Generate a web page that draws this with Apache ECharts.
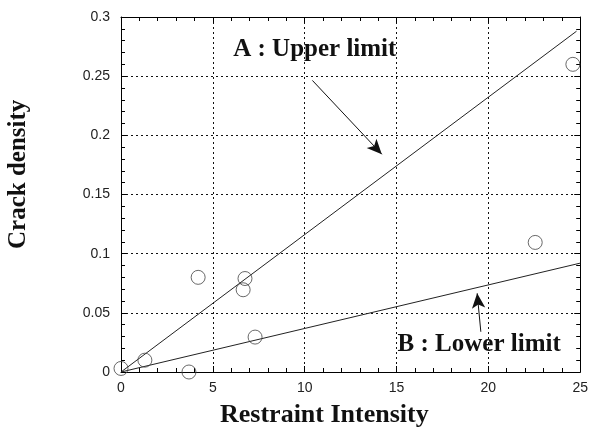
<!DOCTYPE html>
<html>
<head>
<meta charset="utf-8">
<script src="https://cdn.jsdelivr.net/npm/echarts@6/dist/echarts.min.js"></script>
<style>
  html, body { margin: 0; padding: 0; background: #fff; }
  #contain { width: 591px; height: 437px; }
</style>
</head>
<body>
<div id="contain"></div>
<script>
// measured points: restraint intensity vs crack density
var intensity = [0, 1.3, 3.7, 4.2, 6.75, 6.65, 7.3, 22.55, 24.6];
var density = [0.003, 0.01, 0, 0.08, 0.079, 0.0695, 0.0295, 0.1095, 0.26];

// fitted limit lines (end points)
var upperX = [0, 24.8];
var upperY = [0, 0.288];
var lowerX = [0, 25];
var lowerY = [0, 0.092];

var xTicks = [0, 5, 10, 15, 20, 25];
var yTicks = [0, 0.05, 0.1, 0.15, 0.2, 0.25, 0.3];

function pairs(xs, ys) {
    var out = [];
    for (var i = 0; i < xs.length; i++) {
        out.push([xs[i], ys[i]]);
    }
    return out;
}

var serif = '"Liberation Serif", "DejaVu Serif", serif';
var sans = '"Liberation Sans", Arial, sans-serif';

var dotted = { show: true, lineStyle: { color: '#111', type: [2, 3], width: 1 } };

function boxAxis(pos, max, interval, labels) {
    return {
        type: 'value',
        position: pos,
        min: 0,
        max: max,
        interval: interval,
        axisLine: { show: true, onZero: false, lineStyle: { color: '#000', width: 1 } },
        axisTick: { show: true, inside: true, length: 6, lineStyle: { color: '#000' } },
        minorTick: { show: true, splitNumber: 5, length: 4, lineStyle: { color: '#000' } },
        axisLabel: labels || { show: false },
        splitLine: labels ? dotted : { show: false }
    };
}

var option = {
    animation: false,
    backgroundColor: '#fff',
    grid: { left: 121, right: 8, top: 17, bottom: 65, containLabel: false },
    xAxis: [
        boxAxis('bottom', xTicks[xTicks.length - 1], xTicks[1] - xTicks[0], {
            fontFamily: sans, fontSize: 14, color: '#222', margin: 9
        }),
        boxAxis('top', xTicks[xTicks.length - 1], xTicks[1] - xTicks[0])
    ],
    yAxis: [
        boxAxis('left', yTicks[yTicks.length - 1], yTicks[1] - yTicks[0], {
            fontFamily: sans, fontSize: 14, color: '#222', margin: 11,
            formatter: function (v) { return String(+v.toFixed(2)); }
        }),
        boxAxis('right', yTicks[yTicks.length - 1], yTicks[1] - yTicks[0])
    ],
    graphic: [{
        type: 'text',
        left: 220,
        top: 402,
        style: {
            text: 'Restraint Intensity',
            font: 'bold 26px ' + serif,
            fill: '#111'
        }
    }, {
        type: 'text',
        x: 6,
        y: 249,
        rotation: Math.PI / 2,
        style: {
            text: 'Crack density',
            font: 'bold 25px ' + serif,
            fill: '#111'
        }
    }],
    series: [{
        name: 'upper',
        type: 'line',
        data: pairs(upperX, upperY),
        symbol: 'none',
        lineStyle: { color: '#222', width: 1 },
        z: 3,
        markPoint: {
            symbol: 'circle',
            symbolSize: 0,
            label: {
                show: true,
                position: 'inside',
                formatter: 'A : Upper limit',
                fontFamily: serif,
                fontWeight: 'bold',
                fontSize: 25,
                color: '#111'
            },
            data: [{ coord: [10.55, 0.2725] }]
        },
        markLine: {
            silent: true,
            symbol: ['none', 'arrow'],
            symbolSize: [10, 15],
            label: { show: false },
            lineStyle: { color: '#111', width: 1, type: 'solid' },
            data: [[{ coord: [10.42, 0.2464] }, { coord: [14.2, 0.184] }]]
        }
    }, {
        name: 'lower',
        type: 'line',
        data: pairs(lowerX, lowerY),
        symbol: 'none',
        lineStyle: { color: '#222', width: 1 },
        z: 3,
        markPoint: {
            symbol: 'circle',
            symbolSize: 0,
            label: {
                show: true,
                position: 'inside',
                formatter: 'B : Lower limit',
                fontFamily: serif,
                fontWeight: 'bold',
                fontSize: 25,
                color: '#111'
            },
            data: [{ coord: [19.5, 0.0235] }]
        },
        markLine: {
            silent: true,
            symbol: ['none', 'arrow'],
            symbolSize: [10, 15],
            label: { show: false },
            lineStyle: { color: '#111', width: 1, type: 'solid' },
            data: [[{ coord: [19.59, 0.034] }, { coord: [19.39, 0.0665] }]]
        }
    }, {
        name: 'measured',
        type: 'scatter',
        data: pairs(intensity, density),
        symbol: 'circle',
        symbolSize: 14,
        itemStyle: { color: 'rgba(255,255,255,0)', borderColor: '#444', borderWidth: 1 },
        z: 4
    }]
};

var myChart = echarts.init(document.getElementById('contain'));
myChart.setOption(option);
</script>
</body>
</html>
